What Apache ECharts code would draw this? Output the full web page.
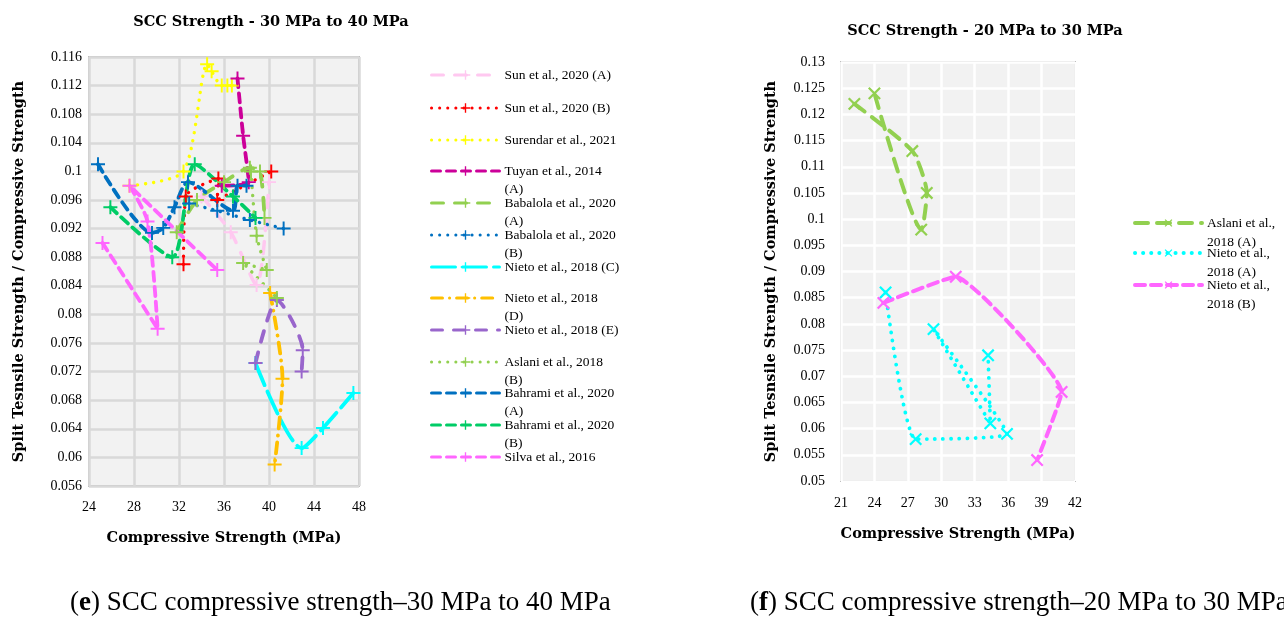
<!DOCTYPE html>
<html>
<head>
<meta charset="utf-8">
<script src="https://cdn.jsdelivr.net/npm/echarts@6/dist/echarts.min.js"></script>
<style>
html,body{margin:0;padding:0;background:#fff;}
#c{width:1284px;height:617px;}
</style>
</head>
<body>
<div id="c"></div>
<script>
// ---------- DATA (left chart: 30-40 MPa) ----------
const sunA     = [[34.0,0.0965],[36.6,0.0915],[38.9,0.0841],[40.0,0.0985]];
const sunB     = [[32.4,0.087],[32.6,0.0965],[35.5,0.099],[35.4,0.096],[40.2,0.100]];
const surendar = [[27.6,0.098],[32.4,0.100],[34.5,0.115],[34.9,0.114],[35.8,0.112],[36.3,0.112],[36.7,0.112]];
const tuyan    = [[37.2,0.113],[37.7,0.105],[38.2,0.0985],[35.8,0.098]];
const babalolaA= [[31.8,0.0915],[33.6,0.096],[36.0,0.0985],[38.3,0.1005],[39.2,0.100],[39.6,0.0935]];
const babalolaB= [[32.9,0.0955],[35.4,0.0945],[38.3,0.0932],[41.3,0.092]];
const nietoC   = [[38.8,0.0732],[42.9,0.0613],[44.8,0.0641],[47.5,0.069]];
const nietoD   = [[40.1,0.083],[41.2,0.071],[40.5,0.059]];
const nietoE   = [[38.8,0.0732],[40.7,0.082],[43.0,0.075],[42.9,0.072]];
const aslaniB  = [[38.4,0.100],[38.9,0.091],[39.8,0.0862],[37.7,0.0872],[40.7,0.0823]];
const bahramiA = [[24.8,0.101],[29.6,0.0914],[30.6,0.0921],[31.6,0.095],[32.8,0.0985],[36.8,0.0945],[37.2,0.098],[38.0,0.098]];
const bahramiB = [[25.9,0.095],[31.4,0.088],[33.4,0.101],[36.8,0.0965],[38.8,0.0935]];
const silva    = [[25.2,0.090],[30.1,0.078],[29.2,0.093],[27.6,0.098],[35.4,0.0862]];
// ---------- DATA (right chart: 20-30 MPa) ----------
const aslaniA  = [[22.2,0.122],[27.4,0.113],[28.7,0.105],[28.2,0.098],[24.0,0.124]];
const nietoA   = [[25.0,0.086],[27.7,0.058],[35.9,0.059],[29.3,0.079],[34.4,0.061],[34.2,0.074]];
const nietoB   = [[24.8,0.084],[31.3,0.089],[40.8,0.067],[38.6,0.054]];
// axis ticks
const leftX  = {min:24, max:48, step:4};
const leftY  = {min:0.056, max:0.116, step:0.004};
const rightX = {min:21, max:42, step:3};
const rightY = {min:0.05, max:0.13, step:0.005};

// ---------- STYLE ----------
const SERIF = '"Liberation Serif","DejaVu Serif",serif';
const BOLDF = '"DejaVu Serif","Liberation Serif",serif';
const PLUS = 'path://M-1,-0.14L1,-0.14L1,0.14L-1,0.14Z M-0.14,-1L0.14,-1L0.14,1L-0.14,1Z';
const DOT = [0.1, 8];

function mk(name, data, color, dash, width, gi, size, rot, smooth) {
  return {
    name, type:'line', xAxisIndex:gi, yAxisIndex:gi, data,
    smooth: smooth == null ? 0.25 : smooth,
    symbol: PLUS, symbolSize: size, symbolRotate: rot || 0, showAllSymbol: true,
    lineStyle: {color, width, type: dash, cap:'round', join:'round'},
    itemStyle: {color, borderWidth:0},
    emphasis: {disabled:true}, animation:false
  };
}

const series = [
  mk('Sun et al., 2020 (A)', sunA, '#FFC8F0', [12,11], 3.5, 0, 14),
  mk('Sun et al., 2020 (B)', sunB, '#FF0000', DOT, 3.4, 0, 14),
  mk('Surendar et al., 2021', surendar, '#FFFF00', DOT, 3.4, 0, 14),
  mk('Tuyan et al., 2014 (A)', tuyan, '#CC0099', [9,6], 3.8, 0, 14),
  mk('Babalola et al., 2020 (A)', babalolaA, '#92D050', [12,11], 3.8, 0, 14),
  mk('Babalola et al., 2020 (B)', babalolaB, '#0070C0', DOT, 3.4, 0, 14),
  mk('Nieto et al., 2018 (C)', nietoC, '#00FFFF', [24,7], 3.8, 0, 14),
  mk('Nieto et al., 2018 (D)', nietoD, '#FFC000', [11,7,0.1,7], 3.8, 0, 14),
  mk('Nieto et al., 2018 (E)', nietoE, '#9966CC', [11,11], 3.8, 0, 14),
  mk('Aslani et al., 2018 (B)', aslaniB, '#92D050', DOT, 3.4, 0, 14),
  mk('Bahrami et al., 2020 (A)', bahramiA, '#0070C0', [9,6], 3.8, 0, 14),
  mk('Bahrami et al., 2020 (B)', bahramiB, '#00CC66', [9,6], 3.8, 0, 14),
  mk('Silva et al., 2016', silva, '#FF66FF', [9,6], 3.8, 0, 14),
  mk('Aslani et al., 2018 (A)', aslaniA, '#92D050', [13,9], 4, 1, 16, 45, 0.2),
  mk('Nieto et al., 2018 (A)', nietoA, '#00FFFF', DOT, 3.8, 1, 16, 45, 0.15),
  mk('Nieto et al., 2018 (B)', nietoB, '#FF66FF', [10,6], 4, 1, 16, 45, 0.12)
];

// legend rows: [name, centerY, two display lines or null]
const leftLegendRows = [
  ['Sun et al., 2020 (A)', 75, null],
  ['Sun et al., 2020 (B)', 108, null],
  ['Surendar et al., 2021', 140, null],
  ['Tuyan et al., 2014 (A)', 171, ['Tuyan et al., 2014', '(A)']],
  ['Babalola et al., 2020 (A)', 203, ['Babalola et al., 2020', '(A)']],
  ['Babalola et al., 2020 (B)', 235, ['Babalola et al., 2020', '(B)']],
  ['Nieto et al., 2018 (C)', 267, null],
  ['Nieto et al., 2018 (D)', 298, ['Nieto et al., 2018', '(D)']],
  ['Nieto et al., 2018 (E)', 330, null],
  ['Aslani et al., 2018 (B)', 362, ['Aslani et al., 2018', '(B)']],
  ['Bahrami et al., 2020 (A)', 393, ['Bahrami et al., 2020', '(A)']],
  ['Bahrami et al., 2020 (B)', 425, ['Bahrami et al., 2020', '(B)']],
  ['Silva et al., 2016', 457, null]
];
const rightLegendRows = [
  ['Aslani et al., 2018 (A)', 223, ['Aslani et al.,', '2018 (A)']],
  ['Nieto et al., 2018 (A)', 253, ['Nieto et al.,', '2018 (A)']],
  ['Nieto et al., 2018 (B)', 285, ['Nieto et al.,', '2018 (B)']]
];

function legendsFor(rows, left, iconW, lh, lineW) {
  return rows.map(([name, cy, lines]) => {
    const two = !!lines;
    return {
      data:[name], left, top: two ? cy - lh * 1.5 : cy - lh / 2,
      padding:0, itemWidth:iconW, itemHeight:12, selectedMode:false,
      formatter: () => two ? ' \n' + lines[0] + '\n' + lines[1] : name,
      lineStyle:{width:lineW},
      textStyle:{fontFamily:SERIF, fontSize:13.5, color:'#000', lineHeight:lh}
    };
  });
}

const fmt = v => String(+v.toFixed(3));
const gridBase = {show:true, backgroundColor:'#F2F2F2', borderColor:'#BFBFBF', borderWidth:2};
const tickText = {fontFamily:SERIF, fontSize:14, color:'#000'};
const nameText = {fontFamily:BOLDF, fontSize:14.5, fontWeight:'bold', color:'#000'};

function xAx(gi, s, gap, split, margin) {
  return {type:'value', gridIndex:gi, min:s.min, max:s.max, interval:s.step,
    name:'Compressive Strength (MPa)', nameLocation:'middle', nameGap:gap, nameTextStyle:nameText,
    axisLine:{show:false}, axisTick:{show:false},
    axisLabel:{...tickText, margin, formatter:fmt},
    splitLine:{show:true, lineStyle:split}};
}
function yAx(gi, s, gap, split, margin) {
  return {type:'value', gridIndex:gi, min:s.min, max:s.max, interval:s.step,
    name:'Split Tesnsile Strength / Compressive Strength', nameLocation:'middle', nameGap:gap, nameTextStyle:nameText,
    axisLine:{show:false}, axisTick:{show:false},
    axisLabel:{...tickText, margin, formatter:fmt},
    splitLine:{show:true, lineStyle:split}};
}

const option = {
  animation:false,
  backgroundColor:'#fff',
  grid:[
    {...gridBase, left:89, top:57, width:270, height:429},
    {...gridBase, left:841, top:62, width:234, height:419}
  ],
  xAxis:[
    xAx(0, leftX, 45, {color:'#D9D9D9', width:2.5}, 14),
    xAx(1, rightX, 46, {color:'#FFFFFF', width:2.5}, 15)
  ],
  yAxis:[
    yAx(0, leftY, 62, {color:'#D9D9D9', width:2.5}, 7),
    yAx(1, rightY, 62, {color:'#FFFFFF', width:2.5}, 16)
  ],
  legend:[...legendsFor(leftLegendRows, 430, 68, 18, 3), ...legendsFor(rightLegendRows, 1133, 67, 19, 4)],
  series,
  graphic:[
    {type:'text', x:271, y:22, style:{text:'SCC Strength - 30 MPa to 40 MPa', fontFamily:BOLDF, fontSize:14.5, fontWeight:'bold', fill:'#000', align:'center', verticalAlign:'middle'}},
    {type:'text', x:985, y:31, style:{text:'SCC Strength - 20 MPa to 30 MPa', fontFamily:BOLDF, fontSize:14.5, fontWeight:'bold', fill:'#000', align:'center', verticalAlign:'middle'}},
    {type:'text', x:70, y:603, style:{text:'({b|e}) SCC compressive strength–30 MPa to 40 MPa', fontFamily:SERIF, fontSize:27, fill:'#000', align:'left', verticalAlign:'middle', rich:{b:{fontFamily:SERIF, fontSize:27, fontWeight:'bold', fill:'#000'}}}},
    {type:'text', x:750, y:603, style:{text:'({b|f}) SCC compressive strength–20 MPa to 30 MPa', fontFamily:SERIF, fontSize:27, fill:'#000', align:'left', verticalAlign:'middle', rich:{b:{fontFamily:SERIF, fontSize:27, fontWeight:'bold', fill:'#000'}}}}
  ]
};

const chart = echarts.init(document.getElementById('c'), null, {renderer:'canvas'});
chart.setOption(option);
</script>
</body>
</html>
